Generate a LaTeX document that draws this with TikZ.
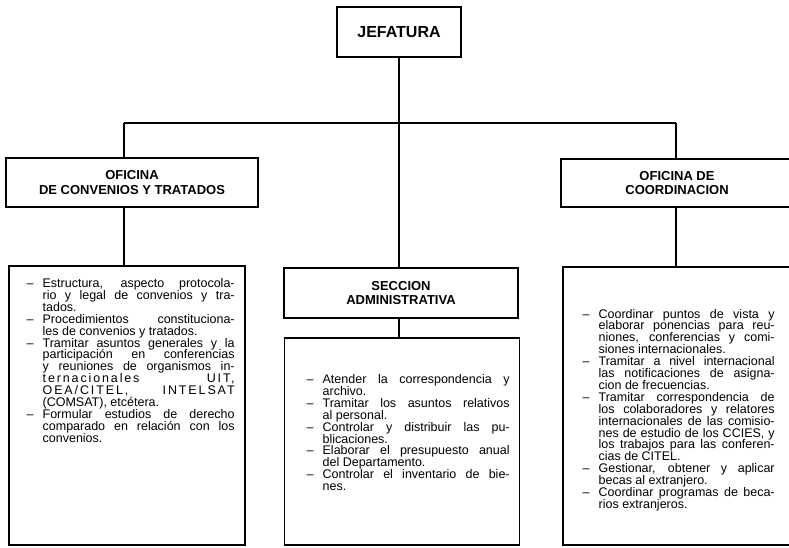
\documentclass[tikz,border=0pt]{standalone}
\usepackage{fontspec}
\setmainfont{Liberation Sans}
\usetikzlibrary{positioning}

\tolerance=10000
\hbadness=10000
\hyphenpenalty=10000

\newlength{\sangria}
\setlength{\sangria}{16pt}
% item with a dash and hanging indent
\newcommand{\guion}{\par\hangindent=\sangria\hangafter=1\noindent\hbox to\sangria{--\hfil}}
\newcommand{\espaciado}[1]{{\addfontfeature{LetterSpace=15}#1}}

\begin{document}
\begin{tikzpicture}[x=1pt,y=-1pt,
  cabecera/.style={draw, line width=1.6pt, inner sep=0pt, align=center,
    font=\fontsize{13}{14.5}\selectfont\bfseries},
  caja/.style={draw, line width=1.1pt, inner sep=0pt},
  lista/.style={inner sep=0pt, align=justify,
    font=\fontsize{12.5}{11.9}\selectfont},
  linea/.style={line width=1.6pt}]
\useasboundingbox (0,0) rectangle (789,547);

% boxes
\node[draw, line width=2.2pt, inner sep=0pt, minimum width=124pt, minimum height=50pt,
  font=\fontsize{16}{18}\selectfont\bfseries] (jefatura) at (399,32) {JEFATURA};
\node[cabecera, minimum width=252pt, minimum height=49pt] (convenios) at (132,182.5)
  {OFICINA\\DE CONVENIOS Y TRATADOS};
\node[cabecera, minimum width=232pt, minimum height=48pt] (coordinacion) at (677,183)
  {OFICINA DE\\COORDINACION};
\node[cabecera, minimum width=234pt, minimum height=50pt] (seccion) at (401,293)
  {SECCION\\ADMINISTRATIVA};
\node[caja, minimum width=236pt, minimum height=279pt] (funciones1) at (127,405.5) {};
\node[caja, minimum width=235pt, minimum height=207pt] (funciones2) at (402,441.5) {};
\node[caja, minimum width=230pt, minimum height=278pt] (funciones3) at (678,406) {};

% lists
\node[lista, text width=208pt, below right=10pt and 18pt of funciones1.north west] (texto1) {%
\guion Estructura, aspecto protocola-\linebreak rio y legal de convenios y tra-\linebreak tados.
\guion Procedimientos constituciona-\linebreak les de convenios y tratados.
\guion Tramitar asuntos generales y la\linebreak participación en conferencias\linebreak
y reuniones de organismos in-\linebreak \espaciado{ternacionales UIT,}\linebreak
\espaciado{OEA/CITEL, INTELSAT}\linebreak (COMSAT), etcétera.
\guion Formular estudios de derecho\linebreak comparado en relación con los\linebreak convenios.\par};
\node[lista, text width=203pt, below right=34pt and 22.5pt of funciones2.north west] (texto2) {%
\guion Atender la correspondencia y\linebreak archivo.
\guion Tramitar los asuntos relativos\linebreak al personal.
\guion Controlar y distribuir las pu-\linebreak blicaciones.
\guion Elaborar el presupuesto anual\linebreak del Departamento.
\guion Controlar el inventario de bie-\linebreak nes.\par};
\node[lista, text width=192pt, below right=39.5pt and 20pt of funciones3.north west] (texto3) {%
\guion Coordinar puntos de vista y\linebreak elaborar ponencias para reu-\linebreak
niones, conferencias y comi-\linebreak siones internacionales.
\guion Tramitar a nivel internacional\linebreak las notificaciones de asigna-\linebreak
cion de frecuencias.
\guion Tramitar correspondencia de\linebreak los colaboradores y relatores\linebreak
internacionales de las comisio-\linebreak nes de estudio de los CCIES, y\linebreak
los trabajos para las conferen-\linebreak cias de CITEL.
\guion Gestionar, obtener y aplicar\linebreak becas al extranjero.
\guion Coordinar programas de beca-\linebreak rios extranjeros.\par};

% connectors
\coordinate (ramaizq) at (124,123);
\coordinate (ramader) at (676,123);
\coordinate (ramacentro) at (jefatura.south |- ramaizq);
\draw[linea] (jefatura.south) -- (ramacentro);
\draw[linea] (ramaizq) -- (ramader);
\draw[linea] (ramaizq) -- (ramaizq |- convenios.north);
\draw[linea] (ramaizq |- convenios.south) -- (ramaizq |- funciones1.north);
\draw[linea] (ramader) -- (ramader |- coordinacion.north);
\draw[linea] (ramader |- coordinacion.south) -- (ramader |- funciones3.north);
\draw[linea] (ramacentro) -- (ramacentro |- seccion.north);
\draw[linea] (ramacentro |- seccion.south) -- (ramacentro |- funciones2.north);
\end{tikzpicture}
\end{document}
